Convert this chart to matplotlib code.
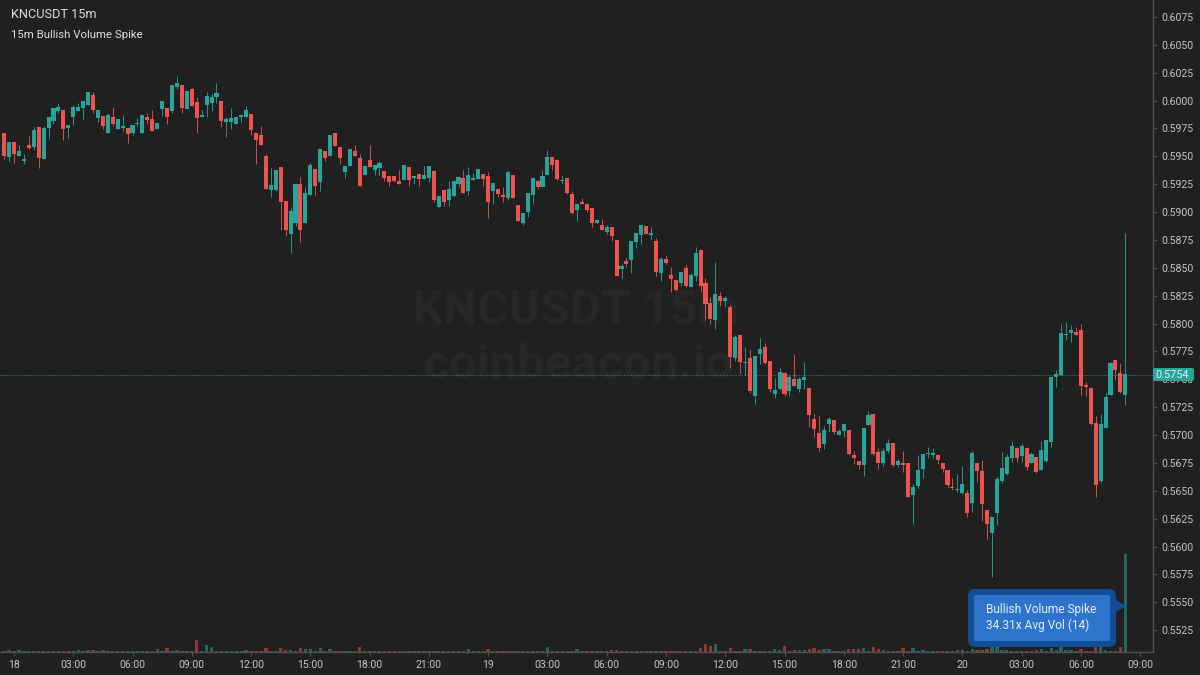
import numpy as np
import matplotlib
matplotlib.use('Agg')
import matplotlib.pyplot as plt
from matplotlib.patches import FancyBboxPatch, Polygon

plt.rcParams['font.family'] = ['Roboto', 'DejaVu Sans']

# prices are written x 100000, one row = 12 candles = 3 hours
opens = [
    59712,59497,59631,59503,59461,59604,59583,59760,59479,59754,59814,59906,
    59918,59751,59852,59909,59933,59960,60050,59843,59858,59712,59852,59745,
    59754,59754,59709,59793,59712,59852,59837,59745,59924,59933,59906,60122,
    60142,59927,60101,59987,59852,59960,59981,60032,59999,59811,59808,59793,
    59852,59852,59879,59709,59691,59503,59195,59195,59401,59099,58803,58902,
    59251,58898,59155,59382,59269,59547,59502,59708,59583,59362,59415,59547,
    59484,59332,59463,59377,59394,59368,59323,59323,59275,59287,59400,59305,
    59341,59293,59305,59368,59045,59194,59107,59143,59248,59302,59188,59290,
    59296,59341,59323,59191,59203,59152,59125,59332,59060,58898,59000,59152,
    59278,59224,59332,59490,59463,59275,59302,59161,59018,59092,59072,59033,
    58904,58883,58817,58862,58749,58485,58563,58569,58728,58796,58871,58796,
    58742,58452,58575,58435,58390,58363,58497,58327,58426,58656,58363,58183,
    58031,58249,58204,58148,57687,57893,57645,57687,57349,57726,57789,57666,
    57367,57412,57552,57394,57505,57412,57493,57421,57146,57014,56919,57101,
    57134,56999,57038,57047,56820,56766,56730,57089,57188,56847,56748,56853,
    56927,56727,56745,56745,56461,56539,56691,56829,56817,56823,56745,56682,
    56533,56506,56479,56476,56389,56745,56676,56332,56117,56300,56587,56647,
    56790,56880,56811,56886,56748,56802,56688,56766,56937,57520,57541,57896,
    57914,57923,57941,57445,57424,57104,56584,57062,57358,57672,57553,57358,
]
closes = [
    59503,59631,59524,59544,59473,59577,59736,59485,59754,59852,59933,59942,
    59745,59781,59942,59942,59999,60080,59915,59912,59772,59870,59790,59831,
    59772,59703,59778,59799,59870,59825,59724,59796,59999,59852,60142,60160,
    59933,60086,59954,59843,59870,60041,60029,60068,59814,59831,59840,59852,
    59870,59915,59733,59643,59604,59207,59240,59380,59090,58836,59006,59254,
    58838,59170,59421,59233,59565,59481,59690,59595,59484,59409,59565,59502,
    59233,59409,59400,59421,59439,59305,59266,59275,59254,59421,59287,59323,
    59293,59332,59409,59107,59140,59089,59203,59275,59314,59170,59332,59302,
    59382,59296,59092,59260,59164,59131,59362,59125,58922,58991,59170,59302,
    59224,59323,59490,59421,59293,59284,59167,58994,59072,59072,59018,58898,
    58928,58838,58862,58784,58426,58515,58533,58737,58808,58883,58802,58811,
    58464,58578,58545,58399,58300,58458,58336,58435,58632,58336,58177,58037,
    58264,58201,58225,57699,57875,57654,57654,57391,57708,57774,57645,57412,
    57403,57565,57364,57525,57436,57505,57522,57182,57050,56880,57047,57146,
    57026,57035,57095,56829,56793,56730,57065,57179,56829,56748,56859,56933,
    56727,56766,56733,56446,56536,56685,56826,56838,56838,56775,56691,56548,
    56524,56515,56557,56300,56838,56676,56380,56201,56267,56602,56700,56805,
    56904,56793,56904,56709,56826,56668,56865,56955,57517,57547,57914,57902,
    57941,57896,57439,57433,57098,56551,57095,57337,57648,57580,57385,57544,
]
highs = [
    59712,59631,59631,59598,59524,59685,59766,59760,59772,59852,59933,59975,
    59918,59781,59960,59975,59999,60080,60080,59912,59858,59885,59945,59831,
    59870,59754,59778,59846,59870,59891,59912,59796,59999,59933,60142,60220,
    60142,60086,60113,60035,59915,60080,60059,60154,59999,59849,59936,59852,
    59870,59948,59879,59709,59772,59521,59395,59380,59401,59099,59045,59254,
    59314,59227,59436,59382,59565,59547,59690,59708,59583,59409,59565,59598,
    59520,59409,59598,59421,59457,59368,59323,59323,59377,59421,59400,59323,
    59341,59412,59409,59368,59140,59194,59275,59275,59314,59377,59403,59350,
    59382,59341,59359,59260,59203,59224,59371,59332,59060,58991,59170,59311,
    59287,59380,59556,59490,59472,59332,59302,59188,59072,59125,59072,59033,
    58928,58934,58883,58862,58749,58545,58593,58737,58808,58883,58871,58865,
    58763,58596,58614,58506,58390,58458,58524,58450,58689,58656,58408,58237,
    58551,58279,58246,58165,57896,57893,57789,57762,57708,57866,57825,57666,
    57511,57600,57561,57540,57726,57522,57657,57421,57185,57170,57080,57164,
    57134,57053,57095,57047,56853,56766,57065,57215,57188,56880,56880,56963,
    56927,56781,56859,56745,56560,56820,56826,56892,56880,56823,56745,56682,
    56614,56649,56718,56503,56859,56745,56778,56332,56267,56629,56850,56829,
    56946,56895,56925,56895,56850,56802,56946,56955,57517,57583,57995,58010,
    57989,57968,57995,57475,57424,57170,57188,57373,57657,57672,57648,58814,
]
lows = [
    59479,59461,59443,59503,59434,59562,59556,59395,59479,59652,59790,59891,
    59646,59664,59784,59909,59831,59960,59885,59811,59745,59706,59772,59745,
    59727,59622,59691,59772,59712,59790,59724,59745,59864,59790,59885,60101,
    59885,59927,59954,59709,59852,59852,59906,59975,59763,59670,59745,59793,
    59811,59852,59691,59434,59604,59207,59132,59186,58836,58782,58633,58875,
    58734,58898,59155,59152,59188,59460,59502,59595,59433,59305,59415,59502,
    59233,59332,59400,59332,59332,59275,59233,59269,59254,59287,59233,59251,
    59233,59293,59269,59089,59045,59051,59051,59131,59227,59170,59152,59290,
    59296,59233,58943,59071,59131,59089,59107,59125,58916,58883,58955,59080,
    59206,59224,59332,59377,59287,59248,59161,58982,58919,59072,59000,58865,
    58904,58838,58805,58742,58426,58399,58506,58452,58677,58716,58802,58760,
    58426,58384,58533,58282,58294,58336,58324,58327,58381,58282,58034,57995,
    57950,58157,58145,57600,57663,57547,57538,57379,57277,57636,57636,57388,
    57334,57403,57349,57349,57436,57388,57409,57068,56978,56859,56874,57026,
    57008,56999,56978,56820,56739,56694,56637,57089,56817,56691,56718,56838,
    56712,56712,56670,56443,56201,56524,56614,56790,56790,56739,56670,56530,
    56503,56488,56470,56261,56309,56578,56231,56069,55728,56192,56566,56641,
    56760,56760,56757,56688,56748,56662,56688,56757,56895,57427,57541,57852,
    57837,57896,57358,57349,57089,56440,56572,57062,57358,57496,57379,57269,
]
# relative volume, last bar is the spike
volumes = [
    1.2,1.5,1.0,1.5,1.0,0.8,1.0,0.8,1.0,1.0,0.8,1.0,
    0.8,0.8,1.0,1.5,1.0,1.5,1.5,0.8,1.5,0.8,1.0,0.6,
    0.6,0.6,0.8,0.6,0.6,0.8,1.0,2.5,0.8,3.5,1.0,1.5,
    1.2,0.6,0.6,12.0,0.8,7.0,5.0,1.0,0.8,1.2,1.0,0.8,
    0.6,2.0,0.6,1.2,1.2,4.0,1.2,1.0,4.0,1.5,2.0,1.0,
    4.0,2.5,2.5,0.8,4.0,0.8,3.0,0.6,0.6,0.6,0.6,0.8,
    5.0,1.0,0.6,1.0,1.2,0.6,0.8,0.8,0.6,0.6,0.8,0.8,
    1.0,1.0,1.2,1.0,1.0,0.6,0.8,0.6,0.6,1.0,3.0,0.8,
    1.0,1.0,3.0,1.0,0.6,0.8,0.6,1.0,0.6,0.6,0.6,0.6,
    0.6,0.8,5.0,0.8,0.8,0.8,1.0,1.0,2.5,0.8,0.8,0.8,
    0.6,0.6,0.6,1.5,1.5,0.6,0.6,0.8,0.6,0.6,0.6,1.0,
    0.6,0.8,0.8,1.0,1.0,0.8,0.8,0.8,1.0,4.0,8.0,5.5,
    8.0,0.8,1.0,4.0,0.8,0.8,3.0,3.0,1.2,1.2,1.0,1.0,
    2.5,2.0,5.5,1.2,1.5,1.5,2.0,3.0,4.0,2.0,3.0,3.0,
    1.0,1.0,1.0,2.5,2.5,2.5,4.0,1.0,5.0,3.0,1.5,1.2,
    1.2,0.8,4.0,1.0,4.0,1.0,1.5,1.0,1.0,0.8,0.8,0.8,
    0.8,1.5,1.5,0.6,3.0,1.5,1.5,3.0,4.5,4.5,2.0,1.5,
    1.2,1.0,1.0,1.0,0.8,1.5,3.0,1.0,4.0,1.5,4.5,2.0,
    1.5,1.0,2.5,1.0,1.0,4.5,4.5,1.5,1.2,1.0,4.5,97.0,
]
price_ticks = [0.5525 + 0.0025 * k for k in range(23)]
x_labels = ['18', '03:00', '06:00', '09:00', '12:00', '15:00', '18:00', '21:00',
            '19', '03:00', '06:00', '09:00', '12:00', '15:00', '18:00', '21:00',
            '20', '03:00', '06:00', '09:00']
last_price = 0.5754

BG = '#202020'
UP = '#26a69a'
DOWN = '#ef5350'
AXIS = '#505050'
TEXT = '#c4c4c4'

o = np.array(opens) / 1e5
c = np.array(closes) / 1e5
h = np.array(highs) / 1e5
l = np.array(lows) / 1e5
v = np.array(volumes)
idx = np.arange(len(o))
colors = np.where(c >= o, UP, DOWN)

fig = plt.figure(figsize=(12, 6.75), dpi=100, facecolor=BG)
rect = [0, 23 / 675, 1153 / 1200, 652 / 675]

# volume pane goes underneath the price axes, spike bar is 98 px tall
vol_ax = fig.add_axes(rect, facecolor=BG)
vol_ax.set_xlim(-0.83, 232.6)
vol_ax.set_ylim(0, v.max() * 652 / 98)
vol_ax.bar(idx, v, width=0.68, color=colors, alpha=0.52, linewidth=0)
vol_ax.axis('off')

ax = fig.add_axes(rect, facecolor='none')
ax.set_xlim(-0.83, 232.6)
ax.set_ylim(0.55054, 0.60902)

for i in idx:
    ax.plot([i, i], [l[i], h[i]], color=colors[i], linewidth=0.72, alpha=0.85,
            solid_capstyle='butt', snap=True, zorder=3)
ax.bar(idx, np.abs(c - o), bottom=np.minimum(o, c), width=0.82, color=colors, linewidth=0, zorder=4)
ax.axhline(last_price, color=UP, linewidth=0.72, linestyle=(0, (1, 2)), zorder=2)

for side in ['top', 'left']:
    ax.spines[side].set_visible(False)
for side in ['right', 'bottom']:
    ax.spines[side].set_color(AXIS)
    ax.spines[side].set_linewidth(1.0)

ax.yaxis.tick_right()
ax.set_yticks(price_ticks)
ax.set_yticklabels(['%.4f' % p for p in price_ticks])
ax.set_xticks(np.arange(len(x_labels)) * 12 + 2)
ax.set_xticklabels(x_labels)
ax.tick_params(axis='y', labelcolor=TEXT, labelsize=7.6, length=3, width=0.8, color=AXIS, pad=3)
ax.tick_params(axis='x', labelcolor=TEXT, labelsize=7.6, length=3, width=0.8, color=AXIS, pad=2.5)

# overlay in pixel coords for text and the callout
ov = fig.add_axes([0, 0, 1, 1], facecolor='none')
ov.set_xlim(0, 1200)
ov.set_ylim(675, 0)
ov.axis('off')

vol_ax.text(576, 311, 'KNCUSDT 15m', transform=ov.transData, color='#272727', fontsize=34.5,
            fontweight='bold', ha='center', va='center')
vol_ax.text(579, 366, 'coinbeacon.io', transform=ov.transData, color='#272727', fontsize=35.4,
            fontweight='bold', ha='center', va='center')

ov.text(11, 15, 'KNCUSDT 15m', color='#dcdcdc', fontsize=9.2, va='center')
ov.text(11, 35, '15m Bullish Volume Spike', color='#dcdcdc', fontsize=8.2, va='center')

ov.add_patch(FancyBboxPatch((1155, 370), 37, 9, boxstyle='round,pad=2,rounding_size=2',
                            facecolor=UP, edgecolor='none'))
ov.text(1172, 375, '%.4f' % last_price, color='#f0f0f0', fontsize=7.8, ha='center', va='center')

ov.add_patch(Polygon([(1115, 600), (1127, 606), (1115, 612)], facecolor='#114e96', edgecolor='none'))
ov.add_patch(FancyBboxPatch((968, 589), 148, 58, boxstyle='round,pad=0,rounding_size=7',
                            facecolor='#114e96', edgecolor='none', zorder=1))
ov.add_patch(FancyBboxPatch((974, 595), 136, 46, boxstyle='round,pad=0,rounding_size=2',
                            facecolor='#2f74cc', edgecolor='none', zorder=2))
ov.text(986, 610, 'Bullish Volume Spike', color='#e8f0fa', fontsize=8.55, va='center', zorder=3)
ov.text(986, 625, '34.31x Avg Vol (14)', color='#e8f0fa', fontsize=8.55, va='center', zorder=3)

fig.savefig('out.png', dpi=100, facecolor=BG)
